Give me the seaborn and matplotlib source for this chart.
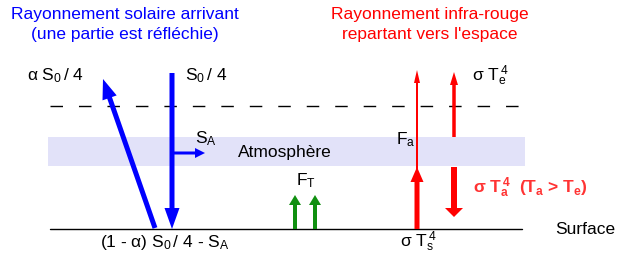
import matplotlib
matplotlib.use("Agg")
import matplotlib.pyplot as plt
import seaborn as sns

# ---------------------------------------------------------------
# Diagram data (pixel coordinates, y pointing down)
# ---------------------------------------------------------------
layer_x = [50, 522]
band_x = [48, 525]
toa_y = 106                      # dashed "top of atmosphere" line
atm_top, atm_bottom = 137, 166   # atmosphere band
surface_y = 229

flux_names = ['S0/4', 'reflected', 'S_A', 'F_T a', 'F_T b',
              'Fa thin', 'sigma Ts4', 'sigma Te4', 'sigma Ta4']
x_start = [172, 155, 172, 295, 315, 417, 417, 454, 454]
y_start = [73, 228, 153, 229, 229, 229, 229, 137, 167]
x_end = [172, 103, 205, 295, 315, 417, 417, 454, 454]
y_end = [229, 79, 153, 195, 195, 70, 167, 72, 217]

# ---------------------------------------------------------------
# Style
# ---------------------------------------------------------------
sns.set_theme(style="white")
plt.rcParams['font.family'] = ['Liberation Sans', 'DejaVu Sans']
plt.rcParams['mathtext.fontset'] = 'custom'
plt.rcParams['mathtext.rm'] = 'Liberation Sans'
plt.rcParams['mathtext.it'] = 'Liberation Sans'
plt.rcParams['mathtext.default'] = 'regular'

BLUE, RED, GREEN = '#0000ff', '#ff0000', '#109010'
colors = [BLUE, BLUE, BLUE, GREEN, GREEN, RED, RED, RED, RED]
widths = [5, 5, 3, 4, 4, 2, 5, 3.5, 6]
head_w = [15, 15, 10, 12, 12, 6, 13, 8, 18]
head_l = [21, 20, 10, 10, 10, 13, 15, 13, 9]

fig = plt.figure(figsize=(6.18, 2.57), dpi=100)
ax = fig.add_axes([0, 0, 1, 1])
ax.set_xlim(0, 618)
ax.set_ylim(257, 0)
ax.axis('off')

# atmosphere band
ax.fill_between(band_x, atm_top, atm_bottom, color='#e2e2f9', lw=0, zorder=0)

# top of atmosphere (dashed) and surface lines
sns.lineplot(x=layer_x, y=[toa_y, toa_y], ax=ax, color='black', lw=1.0,
             linestyle=(0, (9, 11.5)), sort=False, zorder=1)
sns.lineplot(x=layer_x, y=[surface_y, surface_y], ax=ax, color='black', lw=1.0,
             sort=False, zorder=1)

# flux arrows
for i in range(len(flux_names)):
    ax.arrow(x_start[i], y_start[i], x_end[i] - x_start[i], y_end[i] - y_start[i],
             width=widths[i], head_width=head_w[i], head_length=head_l[i],
             length_includes_head=True, color=colors[i], lw=0, zorder=3)

fs = 12.5
# titles
ax.text(125, 15, "Rayonnement solaire arrivant", color=BLUE, fontsize=fs, ha='center', va='center')
ax.text(125, 35, "(une partie est réfléchie)", color=BLUE, fontsize=fs, ha='center', va='center')
ax.text(430, 15, "Rayonnement infra-rouge", color=RED, fontsize=fs, ha='center', va='center')
ax.text(430, 35, "repartant vers l'espace", color=RED, fontsize=fs, ha='center', va='center')

# labels
ax.text(27, 76, r"α S$_0\,$/ 4", fontsize=fs, ha='left', va='center', color='black')
ax.text(185, 76, r"S$_0\,$/ 4", fontsize=fs, ha='left', va='center', color='black')
ax.text(472, 76, r"σ T$_e^{\,4}$", fontsize=fs, ha='left', va='center', color='black')
ax.text(195, 139, r"S$_A$", fontsize=fs, ha='left', va='center', color='black')
ax.text(238, 153, "Atmosphère", fontsize=fs, ha='left', va='center', color='black')
ax.text(396, 140, r"F$_a$", fontsize=fs, ha='left', va='center', color='black')
ax.text(296, 181, r"F$_T$", fontsize=fs, ha='left', va='center', color='black')
ax.text(473, 188, r"σ T$_a^{\,4}$  (T$_a$ > T$_e$)", fontsize=fs, ha='left', va='center',
        color='#ff3333', fontweight='bold')
ax.text(100, 242, r"(1 - α) S$_0\,$/ 4 - S$_A$", fontsize=fs, ha='left', va='center', color='black')
ax.text(400, 242, r"σ T$_s^{\,4}$", fontsize=fs, ha='left', va='center', color='black')
ax.text(555, 229, "Surface", fontsize=fs, ha='left', va='center', color='black')

fig.savefig('out.png', dpi=100)
